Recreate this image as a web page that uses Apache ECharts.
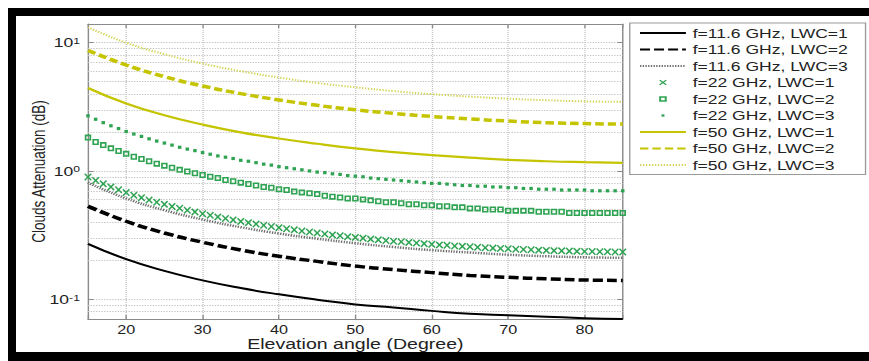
<!DOCTYPE html>
<html>
<head>
<meta charset="utf-8">
<script src="https://cdn.jsdelivr.net/npm/echarts@6.0.0/dist/echarts.min.js"></script>
<style>
html, body { margin: 0; padding: 0; background: #fff; overflow: hidden; }
#wrap { width: 869px; height: 361px; overflow: hidden; position: relative; }
/* the source figure is stretched sideways, so the chart is drawn narrow and scaled */
#chart { width: 644px; height: 361px; transform: scaleX(1.3494); transform-origin: 0 0; }
</style>
</head>
<body>
<div id="wrap"><div id="chart"></div></div>
<script>
// elevation angles for the line curves (every 5 deg)
const angles = [15, 20, 25, 30, 35, 40, 45, 50, 55, 60, 65, 70, 75, 80, 85]
// elevation angles for the 22 GHz marker curves (every 1 deg)
const angles22 = [15, 16, 17, 18, 19, 20, 21, 22, 23, 24, 25, 26, 27, 28, 29, 30, 31, 32, 33, 34,
  35, 36, 37, 38, 39, 40, 41, 42, 43, 44, 45, 46, 47, 48, 49, 50, 51, 52, 53, 54,
  55, 56, 57, 58, 59, 60, 61, 62, 63, 64, 65, 66, 67, 68, 69, 70, 71, 72, 73, 74,
  75, 76, 77, 78, 79, 80, 81, 82, 83, 84, 85]

const f116Lwc1 = [0.27, 0.205, 0.166, 0.140, 0.122, 0.109, 0.099, 0.091, 0.086, 0.081, 0.077, 0.075, 0.073, 0.071, 0.070]
const f116Lwc2 = [0.53, 0.405, 0.328, 0.278, 0.242, 0.216, 0.197, 0.181, 0.170, 0.161, 0.153, 0.148, 0.144, 0.141, 0.140]
const f116Lwc3 = [0.81, 0.61, 0.494, 0.418, 0.364, 0.325, 0.296, 0.273, 0.255, 0.241, 0.231, 0.222, 0.216, 0.212, 0.210]

const f22Lwc1 = [0.896, 0.842, 0.793, 0.751, 0.713, 0.678, 0.647, 0.619, 0.594, 0.570, 0.549, 0.529, 0.511, 0.494, 0.479,
  0.464, 0.451, 0.438, 0.426, 0.415, 0.404, 0.395, 0.386, 0.377, 0.369, 0.361, 0.354, 0.347, 0.340, 0.334,
  0.328, 0.322, 0.317, 0.312, 0.307, 0.303, 0.299, 0.294, 0.290, 0.287, 0.283, 0.280, 0.277, 0.274, 0.271,
  0.268, 0.265, 0.263, 0.260, 0.258, 0.256, 0.254, 0.252, 0.250, 0.248, 0.247, 0.245, 0.244, 0.243, 0.241,
  0.240, 0.239, 0.238, 0.237, 0.236, 0.235, 0.235, 0.234, 0.234, 0.233, 0.233]
const f22Lwc2 = [1.82, 1.68, 1.59, 1.50, 1.43, 1.36, 1.29, 1.24, 1.19, 1.14, 1.10, 1.06, 1.02, 0.99, 0.96,
  0.93, 0.90, 0.88, 0.85, 0.83, 0.81, 0.79, 0.77, 0.75, 0.74, 0.72, 0.71, 0.69, 0.68, 0.67,
  0.66, 0.64, 0.63, 0.62, 0.61, 0.61, 0.60, 0.59, 0.58, 0.57, 0.57, 0.56, 0.55, 0.55, 0.54,
  0.54, 0.53, 0.53, 0.52, 0.52, 0.51, 0.51, 0.50, 0.50, 0.50, 0.49, 0.49, 0.49, 0.49, 0.48,
  0.48, 0.48, 0.48, 0.47, 0.47, 0.47, 0.47, 0.47, 0.47, 0.47, 0.47]
const f22Lwc3 = [2.69, 2.53, 2.38, 2.25, 2.14, 2.03, 1.94, 1.86, 1.78, 1.71, 1.65, 1.59, 1.53, 1.48, 1.44,
  1.39, 1.35, 1.31, 1.28, 1.25, 1.21, 1.19, 1.16, 1.13, 1.11, 1.08, 1.06, 1.04, 1.02, 1.00,
  0.98, 0.97, 0.95, 0.94, 0.92, 0.91, 0.90, 0.88, 0.87, 0.86, 0.85, 0.84, 0.83, 0.82, 0.81,
  0.80, 0.80, 0.79, 0.78, 0.77, 0.77, 0.76, 0.76, 0.75, 0.75, 0.74, 0.74, 0.73, 0.73, 0.72,
  0.72, 0.72, 0.71, 0.71, 0.71, 0.71, 0.70, 0.70, 0.70, 0.70, 0.70]

const f50Lwc1 = [4.44, 3.36, 2.72, 2.30, 2.00, 1.79, 1.63, 1.50, 1.40, 1.33, 1.27, 1.22, 1.19, 1.17, 1.155]
const f50Lwc2 = [8.7, 6.7, 5.44, 4.60, 4.01, 3.58, 3.25, 3.00, 2.81, 2.66, 2.54, 2.45, 2.38, 2.34, 2.32]
const f50Lwc3 = [13.2, 10.0, 8.14, 6.88, 6.00, 5.35, 4.86, 4.49, 4.20, 3.97, 3.80, 3.66, 3.56, 3.49, 3.46]

// minor log grid values (2..9 x 10^k)
const minorTicks = [0.08, 0.09, 0.2, 0.3, 0.4, 0.5, 0.6, 0.7, 0.8, 0.9, 2, 3, 4, 5, 6, 7, 8, 9]

const names = ['f=11.6 GHz, LWC=1', 'f=11.6 GHz, LWC=2', 'f=11.6 GHz, LWC=3',
  'f=22 GHz, LWC=1', 'f=22 GHz, LWC=2', 'f=22 GHz, LWC=3',
  'f=50 GHz, LWC=1', 'f=50 GHz, LWC=2', 'f=50 GHz, LWC=3']

const font = 'Liberation Sans, Arial, sans-serif'
const black = '#000'
const grey = '#6f6f6f'
const green = '#2ea352'
const yellow = '#c4c400'
const yellowLight = '#d4d45a'
const gridColor = '#c4c4c4'
const axisColor = '#8a8a8a'
// marker shapes as filled paths
const crossIcon = 'path://M0,1.4L1.4,0L5,3.6L8.6,0L10,1.4L6.4,5L10,8.6L8.6,10L5,6.4L1.4,10L0,8.6L3.6,5Z'
const squareIcon = 'path://M0,0H10V10H0Z M2.6,2.6V7.4H7.4V2.6Z'
const dotIcon = 'path://M0,0L0,0M10,10L10,10M3,3H7V7H3Z'

const zip = (xs, ys) => xs.map((x, i) => [x, ys[i]])

const chart = echarts.init(document.getElementById('chart'), null, { renderer: 'svg' })

const lineSeries = (name, values, color, width, type) => ({
  name,
  type: 'line',
  data: zip(angles, values),
  smooth: 0.5,
  symbol: 'none',
  lineStyle: { color, width, type },
  itemStyle: { color },
  z: 3
})

const markerSeries = (name, values, symbol, size) => ({
  name,
  type: 'line',
  data: zip(angles22, values),
  symbol,
  symbolSize: size,
  showSymbol: true,
  showAllSymbol: true,
  lineStyle: { opacity: 0, width: 0 },
  itemStyle: { color: green },
  z: 4
})

const supLabel = (v) => {
  const e = Math.round(Math.log10(v))
  if (Math.abs(Math.log10(v) - e) > 1e-6) return ''
  return '{b|10}{s|' + e + '}'
}

// line-only entries: hide the legend symbol, keep the line sample
const legendData = names.map((name) =>
  name.indexOf('22 GHz') > -1 ? { name } : { name, itemStyle: { color: 'rgba(0,0,0,0)', borderWidth: 0 } })

const option = {
  animation: false,
  backgroundColor: '#fff',
  textStyle: { fontFamily: font },
  grid: { left: 65.2, right: 182.5, top: 24, bottom: 42 },
  legend: {
    orient: 'vertical',
    left: 466.7,
    top: 23,
    padding: [3.5, 13, 3, 6.6],
    itemWidth: 34,
    itemHeight: 7,
    itemGap: 3.5,
    backgroundColor: '#fff',
    borderColor: '#9a9a9a',
    borderWidth: 1,
    selectedMode: false,
    textStyle: { fontSize: 13, color: '#222', fontFamily: font },
    data: legendData
  },
  xAxis: [
    {
      type: 'value',
      min: 15,
      max: 85,
      splitNumber: 7,
      minInterval: 10,
      maxInterval: 10,
      name: 'Elevation angle (Degree)',
      nameLocation: 'middle',
      nameGap: 17,
      nameMoveOverlap: false,
      nameTextStyle: { fontSize: 14.5, color: '#222', fontFamily: font },
      axisLine: { onZero: false, lineStyle: { color: axisColor } },
      axisTick: { inside: true, length: 4, lineStyle: { color: axisColor } },
      axisLabel: {
        margin: 5, fontSize: 12, color: '#222', fontFamily: font,
        formatter: (v) => (v % 10 === 0 ? String(v) : '')
      },
      splitLine: { show: true, lineStyle: { color: gridColor, type: 'dotted' } }
    },
    {
      type: 'value',
      position: 'top',
      min: 15,
      max: 85,
      splitNumber: 7,
      minInterval: 10,
      maxInterval: 10,
      axisLine: { onZero: false, lineStyle: { color: axisColor } },
      axisTick: { inside: true, length: 4, lineStyle: { color: axisColor } },
      axisLabel: { show: false },
      splitLine: { show: false }
    }
  ],
  yAxis: [
    {
      type: 'log',
      logBase: 10,
      min: 0.07,
      max: 14,
      name: 'Clouds Attenuation (dB)',
      nameLocation: 'middle',
      nameGap: 30,
      nameMoveOverlap: false,
      nameTextStyle: { fontSize: 13.5, color: '#222', fontFamily: font },
      axisLine: { show: true, lineStyle: { color: axisColor } },
      axisTick: { show: true, inside: true, length: 4, lineStyle: { color: axisColor } },
      axisLabel: {
        margin: 6,
        formatter: supLabel,
        rich: {
          b: { fontSize: 13, color: '#222', fontFamily: font },
          s: { fontSize: 9, color: '#222', fontFamily: font, verticalAlign: 'top' }
        }
      },
      splitLine: { show: true, lineStyle: { color: gridColor, type: 'dotted' } }
    },
    {
      type: 'log',
      logBase: 10,
      min: 0.07,
      max: 14,
      position: 'right',
      axisLine: { show: true, lineStyle: { color: axisColor } },
      axisTick: { show: true, inside: true, length: 4, lineStyle: { color: axisColor } },
      axisLabel: { show: false },
      splitLine: { show: false }
    }
  ],
  graphic: [
    // black frame round the figure
    { type: 'rect', shape: { x: 5.93, y: 8, width: 640, height: 8 }, style: { fill: '#000' }, silent: true },
    { type: 'rect', shape: { x: 5.93, y: 8, width: 5.93, height: 353 }, style: { fill: '#000' }, silent: true },
    { type: 'rect', shape: { x: 5.93, y: 352, width: 640, height: 9 }, style: { fill: '#000' }, silent: true }
  ],
  series: [
    Object.assign(lineSeries(names[0], f116Lwc1, black, 2, 'solid'), {
      markLine: {
        silent: true,
        symbol: ['none', 'none'],
        label: { show: false },
        z: 1,
        lineStyle: { color: gridColor, type: 'dotted', width: 1 },
        emphasis: { disabled: true },
        data: minorTicks.map((v) => ({ yAxis: v }))
      }
    }),
    lineSeries(names[1], f116Lwc2, black, 3.5, [7.4, 3]),
    lineSeries(names[2], f116Lwc3, grey, 2.5, [1, 1]),
    markerSeries(names[3], f22Lwc1, crossIcon, [5.6, 7.5]),
    markerSeries(names[4], f22Lwc2, squareIcon, [4.8, 6]),
    markerSeries(names[5], f22Lwc3, dotIcon, [6.5, 8]),
    lineSeries(names[6], f50Lwc1, yellow, 2.2, 'solid'),
    lineSeries(names[7], f50Lwc2, yellow, 3.5, [6.2, 3]),
    lineSeries(names[8], f50Lwc3, yellowLight, 2, [1, 1.2])
  ]
}

chart.setOption(option)
</script>
</body>
</html>
